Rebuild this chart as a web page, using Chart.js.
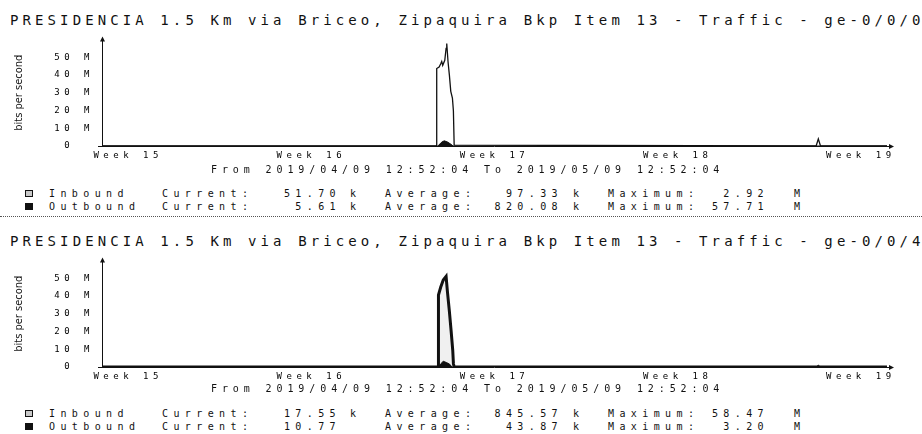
<!DOCTYPE html>
<html>
<head>
<meta charset="utf-8">
<script src="https://cdn.jsdelivr.net/npm/chart.js@4.4.1/dist/chart.umd.min.js"></script>
<style>
  html, body { margin: 0; padding: 0; background: #fff; }
  #page { position: relative; width: 922px; height: 434px; overflow: hidden; background: #fff;
          font-family: "DejaVu Sans Mono", monospace; color: #111; }
  .title { position: absolute; left: 10px; font-size: 14px; line-height: 14px; letter-spacing: 4.1px; white-space: pre; }
  .range { position: absolute; left: 211px; font-size: 10px; line-height: 10px; letter-spacing: 4.9px; white-space: pre; }
  .leg { position: absolute; font-size: 10px; line-height: 10px; letter-spacing: 5.4px; white-space: pre; }
  .num { position: absolute; font-size: 10px; line-height: 10px; letter-spacing: 5.4px; white-space: pre; text-align: right; width: 100px; }
  .icon { position: absolute; left: 25px; width: 6px; height: 5px; border: 1px solid #111; }
  .icon.in { background: #c8c8c8; }
  .icon.out { background: #111; }
  .plot { position: absolute; left: 0; }
  .sep { position: absolute; left: 0; width: 922px; height: 0; border-top: 1px dotted #555; }
</style>
</head>
<body>
<div id="page">
  <div class="title" style="top:13px">PRESIDENCIA 1.5 Km via Briceo, Zipaquira Bkp Item 13 - Traffic - ge-0/0/0</div>
  <div class="plot" style="top:26px"><canvas id="chart1" width="922" height="140"></canvas></div>
  <div class="range" style="top:165px">From 2019/04/09 12:52:04 To 2019/05/09 12:52:04</div>
  <div class="sep" style="top:216px"></div>

  <div class="title" style="top:234px">PRESIDENCIA 1.5 Km via Briceo, Zipaquira Bkp Item 13 - Traffic - ge-0/0/4</div>
  <div class="plot" style="top:247px"><canvas id="chart2" width="922" height="140"></canvas></div>
  <div class="range" style="top:384px">From 2019/04/09 12:52:04 To 2019/05/09 12:52:04</div>
</div>

<script>
// Time axis: hours since 2019/04/09 12:52, one month window
const TOTAL_HOURS = 720;
const weekTickHours = [24, 192, 360, 528, 696];
const weekLabels = ['Week 15', 'Week 16', 'Week 17', 'Week 18', 'Week 19'];
const yTickValues = [0, 10, 20, 30, 40, 50];   // Mbit/s
const Y_MAX = 60;

// ge-0/0/0 (Mbit/s)
const ge0OutHours = [0, 306.5, 307, 309.2, 310.7, 311.6, 312.5, 314.4, 315.6, 316.2, 317.4, 318.6, 319.9, 321.4, 322.3, 323, 655, 657, 659, 720];
const ge0OutMbps  = [0, 0, 43.6, 44.5, 46.3, 47.6, 45.4, 48.2, 55.0, 57.7, 47.3, 40.0, 30.8, 27.0, 19.8, 0.5, 0, 4.0, 0, 0];
const ge0InHours  = [0, 308, 310, 312, 314, 317, 320, 322, 720];
const ge0InMbps   = [0, 0, 1.2, 2.4, 2.9, 2.2, 1.0, 0, 0];

// ge-0/0/4
const ge4InHours  = [0, 308.3, 308.6, 310.7, 313, 315.6, 316.8, 318.6, 320.2, 321.7, 322.3, 323, 720];
const ge4InMbps   = [0, 0, 40.5, 45.0, 49.0, 51.0, 42.5, 31.5, 20.4, 9.4, 2.0, 0, 0];
const ge4OutHours = [0, 309, 311, 313, 316, 319, 321, 655, 657, 659, 720];
const ge4OutMbps  = [0, 0, 2.0, 3.2, 2.5, 1.5, 0, 0, 1.0, 0, 0];

// Legend text
const statNames   = ['Current:', 'Average:', 'Maximum:'];
const ge0InStats  = ['51.70 k', '97.33 k', '2.92 M'];
const ge0OutStats = ['5.61 k', '820.08 k', '57.71 M'];
const ge4InStats  = ['17.55 k', '845.57 k', '58.47 M'];
const ge4OutStats = ['10.77', '43.87 k', '3.20 M'];

function toPoints(hours, vals) {
    return hours.map((h, i) => ({ x: h, y: vals[i] }));
}

// Draws axis lines with arrow heads, like the rrdtool graphs
const axisArrows = {
    id: 'axisArrows',
    beforeDatasetsDraw(chart) {
        chart.ctx.letterSpacing = '0px';
    },
    afterDatasetsDraw(chart) {
        const { ctx, chartArea: a } = chart;
        ctx.save();
        ctx.strokeStyle = '#111';
        ctx.fillStyle = '#111';
        ctx.lineWidth = 1;
        ctx.beginPath();
        ctx.moveTo(a.left + 0.5, a.bottom);
        ctx.lineTo(a.left + 0.5, a.top - 1);
        ctx.moveTo(a.left - 4, a.bottom + 0.5);
        ctx.lineTo(a.right + 4, a.bottom + 0.5);
        ctx.stroke();
        ctx.beginPath();
        ctx.moveTo(a.left + 0.5, a.top - 3);
        ctx.lineTo(a.left - 2, a.top + 2);
        ctx.lineTo(a.left + 3, a.top + 2);
        ctx.closePath();
        ctx.fill();
        ctx.beginPath();
        ctx.moveTo(a.right + 7, a.bottom + 0.5);
        ctx.lineTo(a.right + 2, a.bottom - 2);
        ctx.lineTo(a.right + 2, a.bottom + 3);
        ctx.closePath();
        ctx.fill();
        ctx.restore();
        // tick labels are drawn after this (ticks.z = 1), spaced out like the original
        ctx.letterSpacing = '4.5px';
    },
    afterDraw(chart) {
        chart.ctx.letterSpacing = '0px';
    }
};

function makeChart(id, datasets) {
    return new Chart(document.getElementById(id), {
        type: 'line',
        data: { datasets: datasets },
        options: {
            responsive: false,
            animation: false,
            parsing: false,
            layout: { padding: { top: 11, right: 35, bottom: 0, left: 0 } },
            plugins: { legend: { display: false }, tooltip: { enabled: false } },
            elements: { point: { radius: 0 }, line: { tension: 0 } },
            scales: {
                x: {
                    type: 'linear',
                    min: 0,
                    max: TOTAL_HOURS,
                    grid: { display: false, drawTicks: false },
                    border: { display: false },
                    afterBuildTicks: s => { s.ticks = weekTickHours.map(v => ({ value: v })); },
                    afterFit: s => { s.height = 20; },
                    ticks: {
                        z: 1,
                        autoSkip: false,
                        maxRotation: 0,
                        padding: 4,
                        color: '#000',
                        font: { family: 'DejaVu Sans Mono', size: 9 },
                        callback: (v, i) => weekLabels[i]
                    }
                },
                y: {
                    min: 0,
                    max: Y_MAX,
                    grid: { display: false, drawTicks: false },
                    border: { display: false },
                    afterBuildTicks: s => { s.ticks = yTickValues.map(v => ({ value: v })); },
                    afterFit: s => { s.width = 102; },
                    ticks: {
                        z: 1,
                        padding: 8,
                        color: '#000',
                        font: { family: 'DejaVu Sans Mono', size: 9 },
                        callback: v => v === 0 ? '0  ' : v + ' M'
                    },
                    title: {
                        display: true,
                        text: 'bits per second',
                        color: '#111',
                        padding: { top: 13, bottom: 0 },
                        font: { family: "'Liberation Sans Narrow', 'DejaVu Sans Condensed', 'DejaVu Sans'", size: 11 }
                    }
                }
            }
        },
        plugins: [axisArrows]
    });
}

// ge-0/0/0: small inbound hump is solid, big outbound peak shows as an outline
makeChart('chart1', [
    {
        label: 'Inbound',
        data: toPoints(ge0InHours, ge0InMbps),
        borderColor: '#111',
        borderWidth: 1,
        backgroundColor: '#111',
        fill: 'origin'
    },
    {
        label: 'Outbound',
        data: toPoints(ge0OutHours, ge0OutMbps),
        borderColor: '#111',
        borderWidth: 1.3,
        fill: false
    }
]);

// ge-0/0/4: big inbound peak with a heavy outline, small solid outbound hump
makeChart('chart2', [
    {
        label: 'Outbound',
        data: toPoints(ge4OutHours, ge4OutMbps),
        borderColor: '#111',
        borderWidth: 1,
        backgroundColor: '#111',
        fill: 'origin'
    },
    {
        label: 'Inbound',
        data: toPoints(ge4InHours, ge4InMbps),
        borderColor: '#111',
        borderWidth: 3,
        backgroundColor: 'rgba(0,0,0,0.06)',
        fill: 'origin'
    }
]);

// Legend rows under each graph
const page = document.getElementById('page');
const labelLefts = [162, 385, 608];
const numberRights = [341, 563, 769];   // right edge of the number box (incl. trailing spacing)
const unitLefts = [350, 573, 794];

function addDiv(cls, text, style) {
    const d = document.createElement('div');
    d.className = cls;
    d.textContent = text;
    Object.assign(d.style, style);
    page.appendChild(d);
    return d;
}

function addLegendRow(top, name, stats, iconType) {
    addDiv('icon ' + iconType, '', { top: (top + 1) + 'px' });
    addDiv('leg', name, { top: top + 'px', left: '49px' });
    statNames.forEach((s, i) => {
        const [num, unit] = stats[i].split(' ');
        addDiv('leg', s, { top: top + 'px', left: labelLefts[i] + 'px' });
        addDiv('num', num, { top: top + 'px', left: (numberRights[i] - 100) + 'px' });
        if (unit) addDiv('leg', unit, { top: top + 'px', left: unitLefts[i] + 'px' });
    });
}

addLegendRow(189, 'Inbound', ge0InStats, 'in');
addLegendRow(202, 'Outbound', ge0OutStats, 'out');
addLegendRow(409, 'Inbound', ge4InStats, 'in');
addLegendRow(422, 'Outbound', ge4OutStats, 'out');
</script>
</body>
</html>
